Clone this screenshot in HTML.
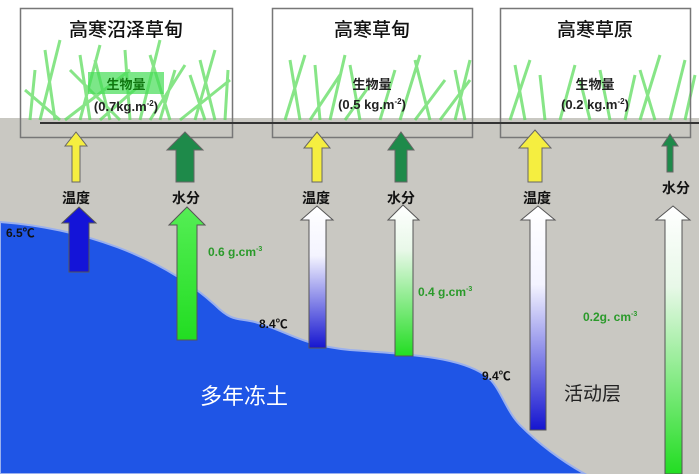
<!DOCTYPE html>
<html><head><meta charset="utf-8"><style>
html,body{margin:0;padding:0;background:#fff}
svg{display:block}
text{font-family:"Liberation Sans","Noto Sans CJK SC",sans-serif}
</style></head><body>
<svg width="699" height="474" viewBox="0 0 699 474" xmlns="http://www.w3.org/2000/svg">
<defs>
<linearGradient id="wb" x1="0" y1="0" x2="0" y2="1"><stop offset="0" stop-color="#fff"/><stop offset="0.35" stop-color="#f4f4ff"/><stop offset="1" stop-color="#1515d0"/></linearGradient>
<linearGradient id="wg" x1="0" y1="0" x2="0" y2="1"><stop offset="0" stop-color="#fff"/><stop offset="0.3" stop-color="#e8f8e8"/><stop offset="1" stop-color="#22dd22"/></linearGradient>
<linearGradient id="gg" x1="0" y1="0" x2="0" y2="1"><stop offset="0" stop-color="#55ee55"/><stop offset="1" stop-color="#22dd22"/></linearGradient>
</defs>
<rect x="0" y="118" width="699" height="356" fill="#c9c8c2"/>
<path d="M0,222 C80,228 160,255 215,305 C232,322 238,318 255,322 C290,332 300,345 350,350 C420,355 460,358 485,375 C500,385 505,410 520,425 C540,445 560,460 585,474 L0,474 Z" fill="#1f55e6" stroke="#9ab0ee" stroke-width="2"/>
<g stroke="#5fdc5f" stroke-width="3" fill="none" opacity="0.75">
<path d="M40,120 L60,40 M55,120 L45,50 M80,120 L100,45 M110,120 L95,60 M140,120 L160,40 M170,120 L150,55 M195,120 L215,50 M215,120 L200,60 M65,120 L130,70 M120,120 L70,70 M180,120 L230,80 M150,120 L185,65 M30,120 L35,70 M90,120 L80,55 M130,120 L125,50 M160,120 L175,70 M205,120 L190,75 M225,120 L228,70 M100,120 L140,85 M60,120 L25,90"/>
<path d="M285,120 L305,55 M300,120 L290,60 M330,120 L345,55 M360,120 L350,65 M400,120 L420,55 M430,120 L415,60 M455,120 L470,60 M440,120 L470,80 M310,120 L340,75 M320,120 L315,65 M380,120 L395,70 M415,120 L445,80 M465,120 L455,70 M345,120 L370,85"/>
<path d="M510,120 L530,60 M525,120 L515,65 M560,120 L575,65 M610,120 L600,70 M640,120 L660,55 M670,120 L685,60 M655,120 L640,70 M685,120 L695,75 M545,120 L540,75 M590,120 L580,80 M625,120 L635,75"/>
</g>
<rect x="20.5" y="8.5" width="212" height="129" fill="none" stroke="#777" stroke-width="1.5"/>
<rect x="272.5" y="8.5" width="200" height="129" fill="none" stroke="#777" stroke-width="1.5"/>
<rect x="500.5" y="8.5" width="190" height="129" fill="none" stroke="#777" stroke-width="1.5"/>
<line x1="40" y1="123" x2="699" y2="123" stroke="#333" stroke-width="2"/>
<g font-size="19" text-anchor="middle" fill="#111" font-weight="500">
<text x="126" y="36">高寒沼泽草甸</text><text x="372" y="36">高寒草甸</text><text x="595" y="36">高寒草原</text>
</g>
<rect x="88" y="72" width="76" height="22" fill="#44dd55" opacity="0.7"/>
<g font-size="13" text-anchor="middle" font-weight="bold">
<text x="126" y="89" fill="#117711">生物量</text><text x="126" y="111" fill="#222">(0.7kg.m<tspan font-size="8" dy="-5">-2</tspan><tspan dy="5">)</tspan></text>
<text x="372" y="89" fill="#222">生物量</text><text x="372" y="109" fill="#222">(0.5 kg.m<tspan font-size="8" dy="-5">-2</tspan><tspan dy="5">)</tspan></text>
<text x="595" y="89" fill="#222">生物量</text><text x="595" y="109" fill="#222">(0.2 kg.m<tspan font-size="8" dy="-5">-2</tspan><tspan dy="5">)</tspan></text>
</g>
<g stroke="#666" stroke-width="1">
<path d="M76,132 L87,146 L80,146 L80,182 L72,182 L72,146 L65,146 Z" fill="#f5ee40"/>
<path d="M185,132 L203,150 L194,150 L194,182 L176,182 L176,150 L167,150 Z" fill="#1e8a4a"/>
<path d="M317,132 L330,148 L322,148 L322,182 L312,182 L312,148 L304,148 Z" fill="#f5ee40"/>
<path d="M401,132 L414,150 L407,150 L407,182 L395,182 L395,150 L388,150 Z" fill="#1e8a4a"/>
<path d="M535,130 L551,148 L542,148 L542,182 L528,182 L528,148 L519,148 Z" fill="#f5ee40"/>
<path d="M670,134 L678,146 L673,146 L673,172 L667,172 L667,146 L662,146 Z" fill="#1e8a4a"/>
</g>
<g font-size="14" font-weight="bold" text-anchor="middle" fill="#111">
<text x="76" y="203">温度</text><text x="186" y="203">水分</text>
<text x="316" y="203">温度</text><text x="401" y="203">水分</text>
<text x="537" y="203">温度</text><text x="676" y="193">水分</text>
</g>
<g stroke="#555" stroke-width="1">
<path d="M79,207 L96,223 L89,223 L89,272 L69,272 L69,223 L62,223 Z" fill="#1414d8"/>
<path d="M187,207 L205,225 L197,225 L197,340 L177,340 L177,225 L169,225 Z" fill="url(#gg)"/>
<path d="M317,206 L333,220 L326,220 L326,348 L309,348 L309,220 L301,220 Z" fill="url(#wb)"/>
<path d="M403,205 L419,220 L413,220 L413,356 L395,356 L395,220 L388,220 Z" fill="url(#wg)"/>
<path d="M538,206 L555,220 L546,220 L546,430 L530,430 L530,220 L521,220 Z" fill="url(#wb)"/>
<path d="M673,206 L690,220 L682,220 L682,474 L665,474 L665,220 L656,220 Z" fill="url(#wg)"/>
</g>
<g font-size="12" font-weight="bold" fill="#111">
<text x="6" y="237">6.5℃</text><text x="259" y="328">8.4℃</text><text x="482" y="380">9.4℃</text>
</g>
<g font-size="12" font-weight="bold" fill="#2a9a2a">
<text x="208" y="256">0.6 g.cm<tspan font-size="7" dy="-5">-3</tspan></text>
<text x="418" y="296">0.4 g.cm<tspan font-size="7" dy="-5">-3</tspan></text>
<text x="583" y="321">0.2g. cm<tspan font-size="7" dy="-5">-3</tspan></text>
</g>
<text x="564" y="400" font-size="19" fill="#222">活动层</text>
<text x="200" y="404" font-size="22" fill="#fff">多年冻土</text>
</svg>
</body></html>
